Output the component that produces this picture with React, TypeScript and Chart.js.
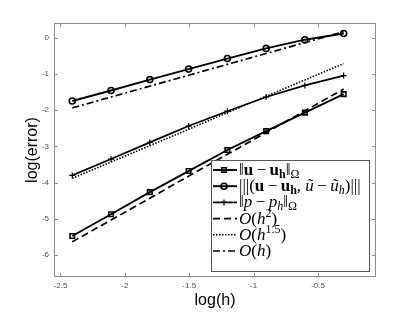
import React, { useEffect, useRef } from "react";
import { Chart, registerables } from "chart.js";

Chart.register(...registerables);

// ---- data ----
const logH = [-2.408, -2.107, -1.806, -1.505, -1.204, -0.903, -0.602, -0.301];
const errVelocity = [-5.47, -4.87, -4.26, -3.68, -3.1, -2.58, -2.07, -1.56];
const errEnergy = [-1.75, -1.46, -1.16, -0.87, -0.58, -0.3, -0.06, 0.11];
const errPressure = [-3.8, -3.35, -2.89, -2.44, -2.03, -1.64, -1.32, -1.05];
const refH2 = [-5.63, -5.03, -4.43, -3.82, -3.22, -2.62, -2.02, -1.42];
const refH15 = [-3.88, -3.43, -2.98, -2.53, -2.07, -1.62, -1.17, -0.72];
const refH1 = [-1.94, -1.64, -1.34, -1.04, -0.74, -0.44, -0.14, 0.16];
const xTicks = [-2.5, -2, -1.5, -1, -0.5];
const yTicks = [0, -1, -2, -3, -4, -5, -6];
const xTitle = "log(h)";
const yTitle = "log(error)";

// legend labels as styled segments: n normal, i italic, b bold, *s subscript, sup superscript
const legendLabels: [string, string][][] = [
  [["‖", "n"], ["u", "b"], ["\u2009−\u2009", "n"], ["u", "b"], ["h", "bs"], ["‖", "n"], ["Ω", "ns"]],
  [["|||(", "n"], ["u", "b"], ["\u2009−\u2009", "n"], ["u", "b"], ["h", "bs"], [", ", "n"], ["ũ", "i"], ["\u2009−\u2009", "n"], ["ũ", "i"], ["h", "is"], [")|||", "n"]],
  [["‖", "n"], ["p", "i"], ["\u2009−\u2009", "n"], ["p", "i"], ["h", "is"], ["‖", "n"], ["Ω", "ns"]],
  [["O", "i"], ["(", "n"], ["h", "i"], ["2", "sup"], [")", "n"]],
  [["O", "i"], ["(", "n"], ["h", "i"], ["1.5", "sup"], [")", "n"]],
  [["O", "i"], ["(", "n"], ["h", "i"], [")", "n"]],
];

const SERIF = '"Liberation Serif", "DejaVu Serif", serif';
const SANS = '"Liberation Sans", Arial, Helvetica, sans-serif';

function drawMarker(ctx: CanvasRenderingContext2D, style: string, r: number, x: number, y: number, lw: number) {
  ctx.save();
  ctx.setLineDash([]);
  ctx.lineWidth = lw;
  ctx.strokeStyle = "#000";
  ctx.beginPath();
  if (style === "rect") {
    const s = r * Math.SQRT1_2;
    ctx.rect(x - s, y - s, 2 * s, 2 * s);
  } else if (style === "circle") {
    ctx.arc(x, y, r, 0, Math.PI * 2);
  } else if (style === "cross") {
    ctx.moveTo(x - r, y);
    ctx.lineTo(x + r, y);
    ctx.moveTo(x, y - r);
    ctx.lineTo(x, y + r);
  }
  ctx.stroke();
  ctx.restore();
}

const framePlugin = {
  id: "frameTicks",
  afterDatasetsDraw(chart: any) {
    const { ctx, chartArea: ca, scales } = chart;
    ctx.save();
    ctx.strokeStyle = "#8c8c8c";
    ctx.lineWidth = 1;
    ctx.setLineDash([]);
    ctx.strokeRect(ca.left + 0.5, ca.top + 0.5, ca.right - ca.left - 1, ca.bottom - ca.top - 1);
    const tl = 4;
    ctx.beginPath();
    for (const v of xTicks) {
      const px = Math.round(scales.x.getPixelForValue(v)) + 0.5;
      ctx.moveTo(px, ca.bottom);
      ctx.lineTo(px, ca.bottom - tl);
      ctx.moveTo(px, ca.top);
      ctx.lineTo(px, ca.top + tl);
    }
    for (const v of yTicks) {
      const py = Math.round(scales.y.getPixelForValue(v)) + 0.5;
      ctx.moveTo(ca.left, py);
      ctx.lineTo(ca.left + tl, py);
      ctx.moveTo(ca.right, py);
      ctx.lineTo(ca.right - tl, py);
    }
    ctx.stroke();
    ctx.restore();
  },
};

const legendPlugin = {
  id: "mathLegend",
  afterDraw(chart: any) {
    const { ctx, chartArea: ca } = chart;
    const boxW = 158;
    const boxH = 111;
    const bx = ca.right - 7 - boxW;
    const by = ca.bottom - 6 - boxH;
    ctx.save();
    ctx.fillStyle = "#fff";
    ctx.fillRect(bx, by, boxW, boxH);
    ctx.strokeStyle = "#555";
    ctx.lineWidth = 1;
    ctx.strokeRect(bx + 0.5, by + 0.5, boxW, boxH);
    chart.data.datasets.forEach((ds: any, i: number) => {
      const y = by + 10 + i * 16.2;
      ctx.save();
      ctx.beginPath();
      ctx.setLineDash(ds.borderDash || []);
      ctx.lineWidth = ds.borderWidth;
      ctx.strokeStyle = "#000";
      ctx.moveTo(bx + 2, y);
      ctx.lineTo(bx + 26, y);
      ctx.stroke();
      ctx.restore();
      if (ds.pointRadius > 0) drawMarker(ctx, ds.pointStyle, ds.pointRadius, bx + 13, y, ds.pointBorderWidth);
      let x = bx + 28;
      const base = y + 5;
      ctx.fillStyle = "#000";
      ctx.textBaseline = "alphabetic";
      ctx.textAlign = "left";
      for (const [t, st] of legendLabels[i]) {
        let font = `17px ${SERIF}`;
        let yy = base;
        if (st === "i") font = `italic 17px ${SERIF}`;
        else if (st === "b") font = `bold 17px ${SERIF}`;
        else if (st === "ns") { font = `12px ${SERIF}`; yy = base + 3; }
        else if (st === "is") { font = `italic 12px ${SERIF}`; yy = base + 3; }
        else if (st === "bs") { font = `bold 12px ${SERIF}`; yy = base + 3; }
        else if (st === "sup") { font = `12px ${SERIF}`; yy = base - 6.5; }
        ctx.font = font;
        ctx.fillText(t, x, yy);
        x += ctx.measureText(t).width;
      }
    });
    ctx.restore();
  },
};

export default function App() {
  const ref = useRef<HTMLCanvasElement | null>(null);
  useEffect(() => {
    if (!ref.current) return;
    const mk = (arr: number[]) => logH.map((x, i) => ({ x, y: arr[i] }));
    const chart = new Chart(ref.current, {
      type: "line",
      data: {
        datasets: [
          { data: mk(errVelocity), borderColor: "#000", borderWidth: 1.9, pointStyle: "rect", pointRadius: 3.2, pointBorderWidth: 1.6, pointBorderColor: "#000", pointBackgroundColor: "rgba(0,0,0,0)", borderDash: [] },
          { data: mk(errEnergy), borderColor: "#000", borderWidth: 1.9, pointStyle: "circle", pointRadius: 3, pointBorderWidth: 1.6, pointBorderColor: "#000", pointBackgroundColor: "rgba(0,0,0,0)", borderDash: [] },
          { data: mk(errPressure), borderColor: "#000", borderWidth: 1.7, pointStyle: "cross", pointRadius: 3, pointBorderWidth: 1.2, pointBorderColor: "#000", borderDash: [] },
          { data: mk(refH2), borderColor: "#000", borderWidth: 1.7, pointRadius: 0, borderDash: [7, 4] },
          { data: mk(refH15), borderColor: "#000", borderWidth: 1.6, pointRadius: 0, borderDash: [1.5, 1.5] },
          { data: mk(refH1), borderColor: "#000", borderWidth: 1.7, pointRadius: 0, borderDash: [7, 3, 2, 3] },
        ] as any,
      },
      options: {
        responsive: false,
        animation: false,
        devicePixelRatio: 1,
        layout: { padding: { left: 0, right: 39, top: 23, bottom: 0 } },
        plugins: { legend: { display: false }, tooltip: { enabled: false } },
        elements: { line: { tension: 0 } },
        scales: {
          x: {
            type: "linear",
            min: -2.55,
            max: -0.05,
            afterBuildTicks: (s: any) => { s.ticks = xTicks.map((v) => ({ value: v })); },
            afterFit: (s: any) => { s.height = 35; },
            grid: { display: false, drawTicks: false },
            border: { display: false },
            ticks: { autoSkip: false, maxRotation: 0, padding: 4, color: "#4d4d4d", font: { size: 8, family: SANS }, callback: (v: any) => String(v) },
            title: { display: true, text: xTitle, color: "#000", font: { size: 16, family: SANS }, padding: { top: 0, bottom: 2 } },
          },
          y: {
            type: "linear",
            min: -6.6,
            max: 0.4,
            afterBuildTicks: (s: any) => { s.ticks = yTicks.map((v) => ({ value: v })); },
            afterFit: (s: any) => { s.width = 54; },
            grid: { display: false, drawTicks: false },
            border: { display: false },
            ticks: { autoSkip: false, padding: 5, color: "#4d4d4d", font: { size: 8, family: SANS }, callback: (v: any) => String(v) },
            title: { display: true, text: yTitle, color: "#000", font: { size: 16, family: SANS }, padding: { top: 23, bottom: 0 } },
          },
        },
      } as any,
      plugins: [framePlugin, legendPlugin],
    });
    return () => chart.destroy();
  }, []);
  return (
    <div style={{ position: "absolute", left: 0, top: 0, width: 415, height: 312, background: "#fff" }}>
      <canvas ref={ref} width={415} height={312} style={{ display: "block", width: 415, height: 312 }} />
    </div>
  );
}
